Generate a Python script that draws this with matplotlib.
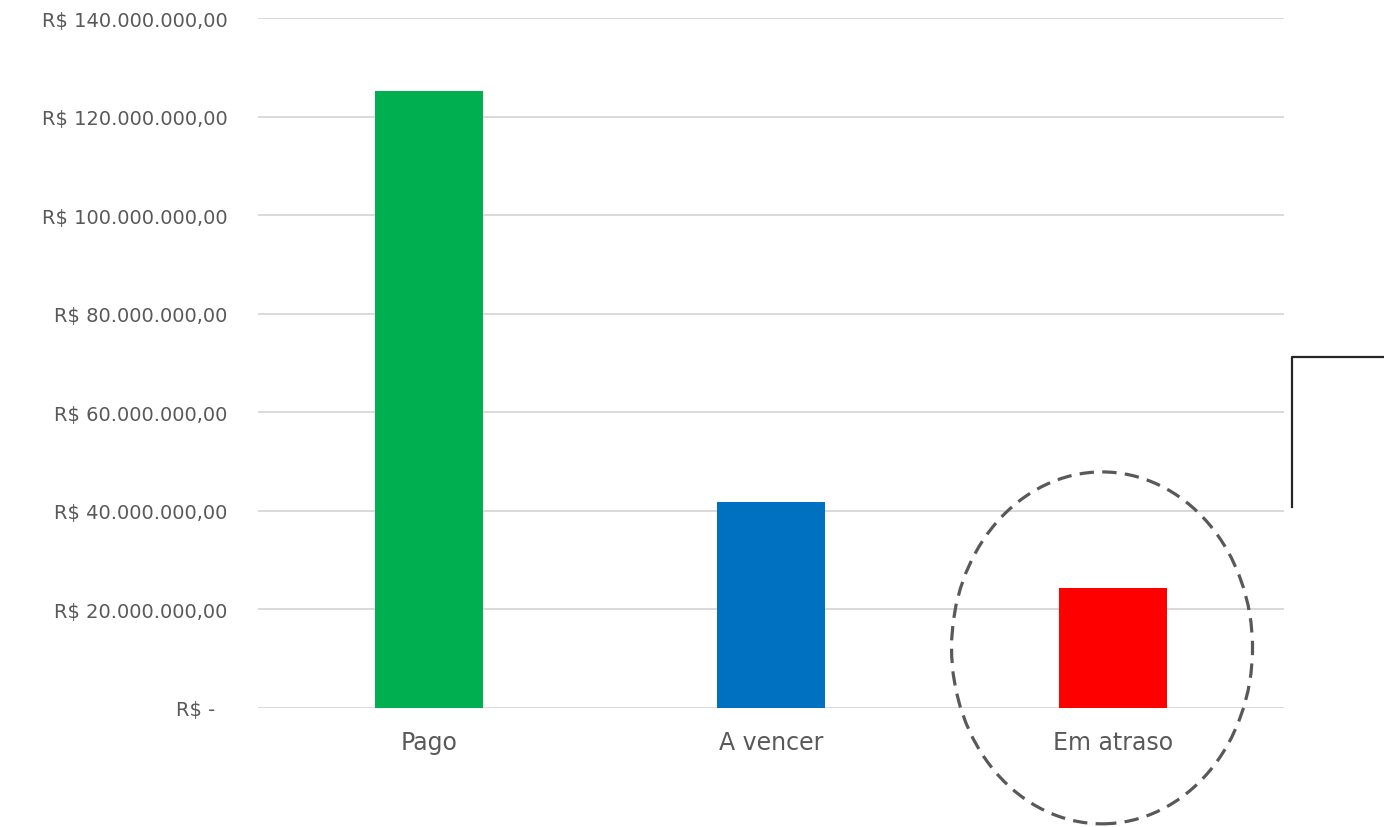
import matplotlib.pyplot as plt
from matplotlib.patches import Ellipse
from matplotlib.lines import Line2D

# data
categorias = ['Pago', 'A vencer', 'Em atraso']
valores = [125_200_000, 41_800_000, 24_400_000]
cores = ['#00B050', '#0070C0', '#FF0000']
yticks = [0, 20e6, 40e6, 60e6, 80e6, 100e6, 120e6, 140e6]


def fmt_real(v):
    if v == 0:
        return 'R$ -  '
    s = f'{v:,.2f}'.replace(',', 'X').replace('.', ',').replace('X', '.')
    return 'R$ ' + s


plt.rcParams['font.family'] = ['DejaVu Sans']

fig = plt.figure(figsize=(13.84, 8.28), dpi=100)
ax = fig.add_axes([258 / 1384, 1 - 709 / 828, 1026 / 1384, 690 / 828])

x = range(len(categorias))
ax.bar(x, valores, width=0.316, color=cores, zorder=3)

ax.set_xlim(-0.5, 2.5)
ax.set_ylim(0, 140e6)
ax.set_yticks(yticks)
ax.set_yticklabels([fmt_real(v) for v in yticks])
ax.set_xticks(list(x))
ax.set_xticklabels(categorias)

ax.grid(axis='y', color='#d9d9d9', linewidth=1.4, zorder=0)
ax.set_axisbelow(True)
for sp in ax.spines.values():
    sp.set_visible(False)
ax.tick_params(axis='y', length=0, pad=22, labelsize=14, labelcolor='#595959')
ax.tick_params(axis='x', length=0, pad=16, labelsize=17, labelcolor='#595959')

# dashed circle around "Em atraso"
circ = Ellipse((1.968, 12.2e6), 0.88, 71.4e6, fill=False, edgecolor='#595959',
               linewidth=2.3, linestyle=(0, (4.5, 2.6)), clip_on=False, zorder=5)
ax.add_patch(circ)

# bracket line on the right edge
fig.add_artist(Line2D([1292 / 1384, 1292 / 1384, 1.0],
                      [1 - 508 / 828, 1 - 358 / 828, 1 - 358 / 828],
                      color='#262626', linewidth=1.6))

fig.savefig('out.png', dpi=100)
